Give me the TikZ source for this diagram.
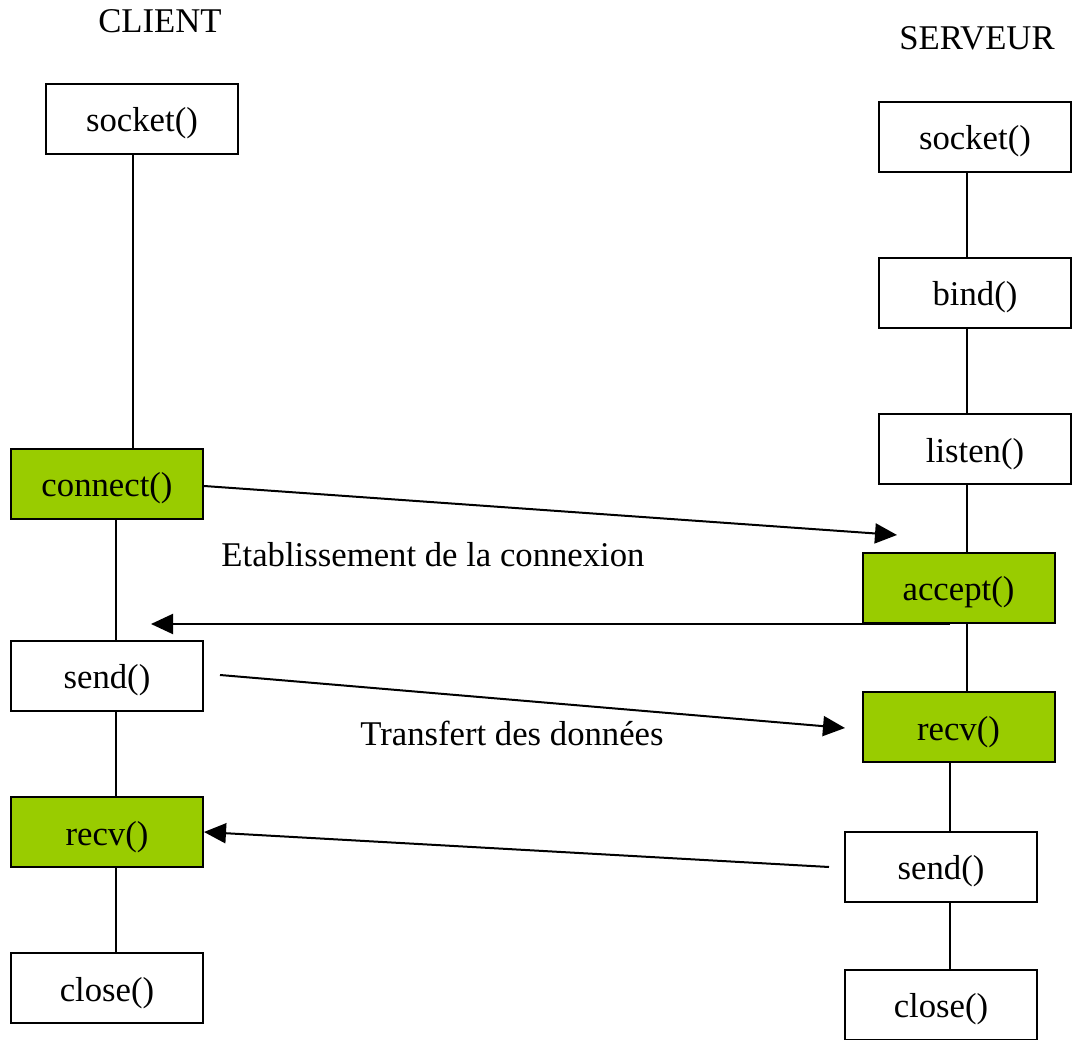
\documentclass[tikz,border=0pt]{standalone}
\usepackage{fontspec}
\setmainfont{Liberation Serif}
\usetikzlibrary{arrows.meta}
\definecolor{boxgreen}{HTML}{99CC00}
\begin{document}
\begin{tikzpicture}[x=1pt,y=-1pt,
  font=\fontsize{34.7}{40}\selectfont,
  fbox/.style={draw=black,line width=2pt,fill=white,minimum width=192pt,minimum height=70pt,
    inner sep=0pt,text height=26pt,text depth=0pt},
  gbox/.style={fbox,fill=boxgreen},
  link/.style={line width=2pt},
  msg/.style={line width=2pt,-{Triangle[length=22pt,width=20pt]}},
  lbl/.style={anchor=base,inner sep=0pt}]
\useasboundingbox (0,0) rectangle (1072,1040);
% titles
\node[lbl] (tclient) at (160,33) {CLIENT};
\node[lbl] (tserver) at (977,50) {SERVEUR};
% client
\node[fbox] (cs) at (142,119) {socket()};
\node[gbox] (cc) at (107,484) {connect()};
\node[fbox] (csend) at (107,675.5) {send()};
\node[gbox] (crecv) at (107,832) {recv()};
\node[fbox] (cclose) at (107,988) {close()};
% server
\node[fbox] (ss) at (975,137) {socket()};
\node[fbox] (sb) at (975,293) {bind()};
\node[fbox] (sl) at (975,449.5) {listen()};
\node[gbox] (sa) at (958.5,588) {accept()};
\node[gbox] (sr) at (958.5,727) {recv()};
\node[fbox] (ssend) at (941,866.5) {send()};
\node[fbox] (sclose) at (941,1004.5) {close()};
% client life line
\draw[link] ([xshift=-9pt]cs.south) -- ([xshift=-9pt]cs.south |- cc.north);
\draw[link] ([xshift=9pt]cc.south) -- ([xshift=9pt]cc.south |- csend.north);
\draw[link] ([xshift=9pt]csend.south) -- ([xshift=9pt]csend.south |- crecv.north);
\draw[link] ([xshift=9pt]crecv.south) -- ([xshift=9pt]crecv.south |- cclose.north);
% server life line
\draw[link] ([xshift=-8pt]ss.south) -- ([xshift=-8pt]ss.south |- sb.north);
\draw[link] ([xshift=-8pt]sb.south) -- ([xshift=-8pt]sb.south |- sl.north);
\draw[link] ([xshift=-8pt]sl.south) -- ([xshift=-8pt]sl.south |- sa.north);
\draw[link] ([xshift=8.5pt]sa.south) -- ([xshift=8.5pt]sa.south |- sr.north);
\draw[link] ([xshift=-8.5pt]sr.south) -- ([xshift=-8.5pt]sr.south |- ssend.north);
\draw[link] ([xshift=9pt]ssend.south) -- ([xshift=9pt]ssend.south |- sclose.north);
% messages
\coordinate (acctip) at (897,535);
\coordinate (connback) at (151,623);
\coordinate (sendstart) at (220,675);
\coordinate (recvtip) at (845,728);
\coordinate (sendsrv) at (829,867);
\draw[msg] ([yshift=-2pt]cc.east) -- (acctip);
\draw[msg] ([xshift=-8.5pt]sa.south) -- (connback |- sa.south);
\draw[msg] (sendstart) -- (recvtip);
\draw[msg] (sendsrv) -- (crecv.east);
% labels
\node[lbl] (l1) at (433,567) {Etablissement de la connexion};
\node[lbl] (l2) at (512,745) {Transfert des données};
\end{tikzpicture}
\end{document}
